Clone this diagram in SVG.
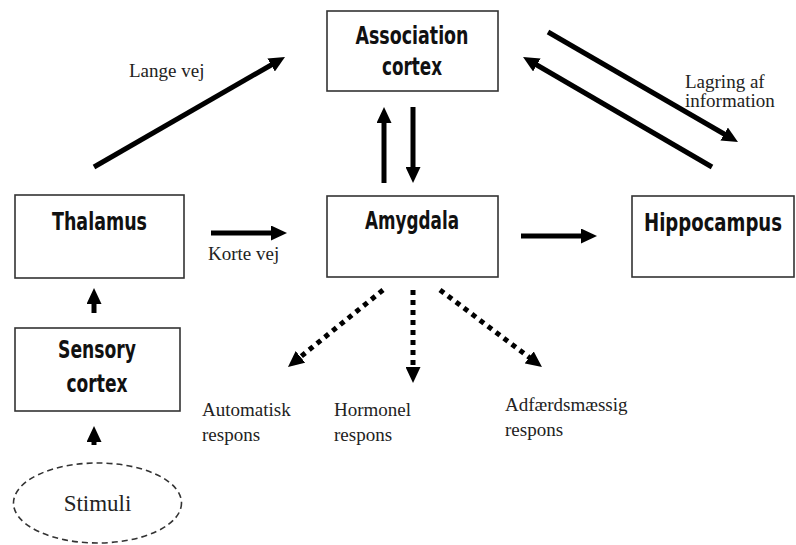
<svg xmlns="http://www.w3.org/2000/svg" width="796" height="545" viewBox="0 0 796 545">
<style>
.box{fill:#fff;stroke:#333;stroke-width:1.6}
.bt{font-family:"DejaVu Sans Condensed","Liberation Sans",sans-serif;font-weight:bold;font-size:24px;fill:#111;text-anchor:middle}
.lt{font-family:"Liberation Serif","Times New Roman",serif;font-size:19px;fill:#222}
.ar{stroke:#000;stroke-width:5;fill:none;marker-end:url(#ah)}
.dt{stroke:#000;stroke-width:5;fill:none;stroke-dasharray:5 5;marker-end:url(#ah)}
</style>
<defs>
<marker id="ah" markerUnits="userSpaceOnUse" viewBox="0 0 16 15" markerWidth="16" markerHeight="15" refX="4" refY="7.5" orient="auto">
<path d="M0,0 L16,7.5 L0,15 z" fill="#000"/>
</marker>
</defs>
<g id="connectors">
<line class="ar" x1="94" y1="167" x2="274.6" y2="63"/>
<line class="ar" x1="548" y1="32" x2="727.6" y2="136"/>
<line class="ar" x1="712" y1="167" x2="533.4" y2="63"/>
<line class="ar" x1="384" y1="183" x2="384" y2="119"/>
<line class="ar" x1="413" y1="107" x2="413" y2="171"/>
<line class="ar" x1="211" y1="233" x2="275" y2="233"/>
<line class="ar" x1="521" y1="236" x2="585" y2="236"/>
<line class="ar" x1="94" y1="313" x2="94" y2="300"/>
<line class="ar" x1="94" y1="445" x2="94" y2="438"/>
<line class="dt" x1="383" y1="290" x2="297.3" y2="359.4"/>
<line class="dt" x1="413" y1="290" x2="413" y2="371"/>
<line class="dt" x1="440" y1="290" x2="532.4" y2="359.8"/>
</g>
<g id="association">
<rect class="box" x="327" y="11" width="171" height="80"/>
<text class="bt" x="412" y="44" textLength="113" lengthAdjust="spacingAndGlyphs">Association</text>
<text class="bt" x="412" y="75" textLength="60" lengthAdjust="spacingAndGlyphs">cortex</text>
</g>
<g id="thalamus">
<rect class="box" x="15" y="195" width="169" height="83"/>
<text class="bt" x="99.5" y="230" textLength="95" lengthAdjust="spacingAndGlyphs">Thalamus</text>
</g>
<g id="amygdala">
<rect class="box" x="327" y="196" width="171" height="81"/>
<text class="bt" x="412" y="229" textLength="94" lengthAdjust="spacingAndGlyphs">Amygdala</text>
</g>
<g id="hippocampus">
<rect class="box" x="632" y="196" width="162" height="81"/>
<text class="bt" x="713" y="231" font-size="22" textLength="138" lengthAdjust="spacingAndGlyphs">Hippocampus</text>
</g>
<g id="sensory">
<rect class="box" x="15" y="328" width="165" height="83"/>
<text class="bt" x="97" y="358" textLength="78" lengthAdjust="spacingAndGlyphs">Sensory</text>
<text class="bt" x="97" y="392" textLength="61" lengthAdjust="spacingAndGlyphs">cortex</text>
</g>
<g id="stimuli">
<ellipse cx="97.5" cy="503" rx="84" ry="40" fill="#fff" stroke="#333" stroke-width="1.6" stroke-dasharray="6 4"/>
<text x="97.5" y="511" font-family="Liberation Serif,serif" font-size="23" fill="#222" text-anchor="middle">Stimuli</text>
</g>
<g id="labels">
<text class="lt" x="129" y="77">Lange vej</text>
<text class="lt" x="208" y="260">Korte vej</text>
<text class="lt" x="685" y="88">Lagring af</text>
<text class="lt" x="685" y="107">information</text>
<text class="lt" x="202" y="416">Automatisk</text>
<text class="lt" x="202" y="441">respons</text>
<text class="lt" x="334" y="416">Hormonel</text>
<text class="lt" x="334" y="441">respons</text>
<text class="lt" x="505" y="411">Adfærdsmæssig</text>
<text class="lt" x="505" y="436">respons</text>
</g>
</svg>
